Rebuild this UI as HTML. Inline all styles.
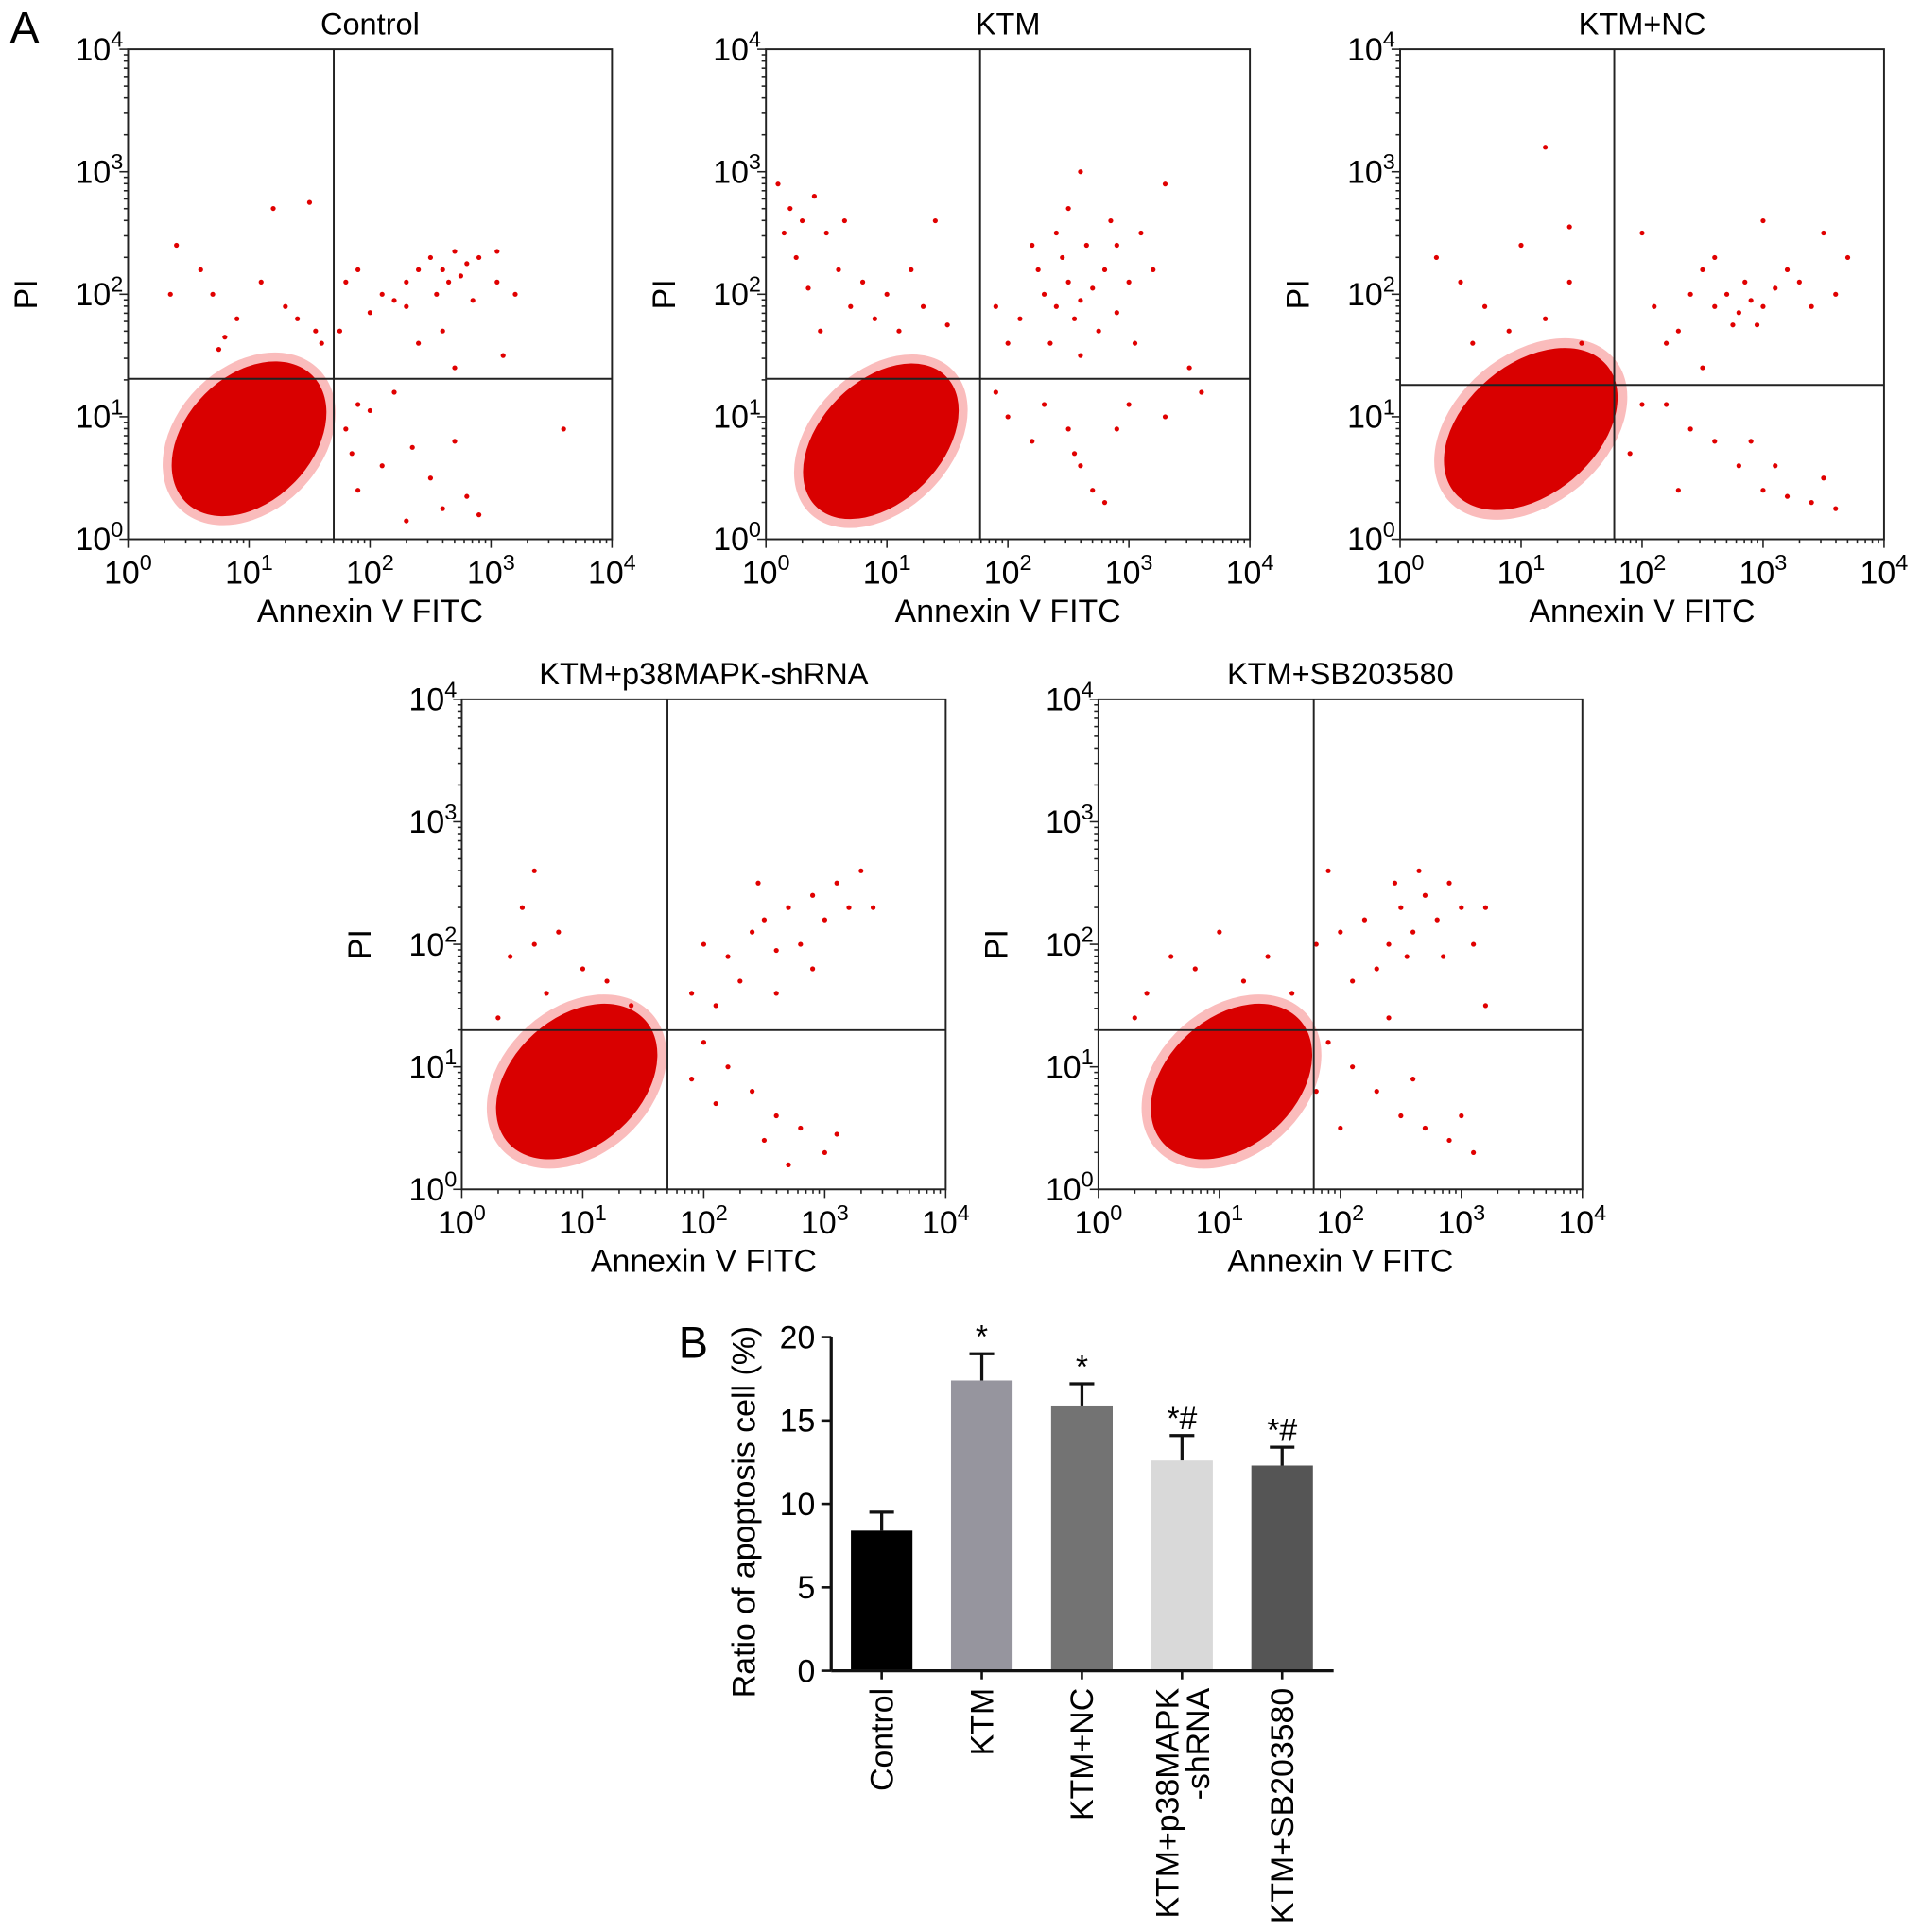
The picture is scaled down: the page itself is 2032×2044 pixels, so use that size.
<!DOCTYPE html>
<html><head><meta charset="utf-8">
<style>
html,body{margin:0;padding:0;background:#fff;}
svg{display:block;font-family:"Liberation Sans",Arial,sans-serif;}
</style></head>
<body>
<svg id="fig" width="2032" height="2044" viewBox="0 0 1560 1569.2" preserveAspectRatio="none" xmlns="http://www.w3.org/2000/svg">
<text x="8" y="35" font-size="36">A</text>
<text x="551" y="1103" font-size="36">B</text>
</svg>
<script>
// ---------- Flow cytometry data (log10 units) ----------
const panelTitles = ["Control","KTM","KTM+NC","KTM+p38MAPK-shRNA","KTM+SB203580"];
const gateX = [1.7, 1.77, 1.77, 1.7, 1.78];
const gateY = [1.31, 1.31, 1.26, 1.30, 1.30];
// cloud: [center logx, center logy, major radius, minor radius, angle deg]
const clouds = [
  [1.0,0.82,0.74,0.52,-45],
  [0.95,0.80,0.76,0.50,-45],
  [1.08,0.90,0.82,0.54,-40],
  [0.95,0.88,0.76,0.53,-42],
  [1.1,0.88,0.76,0.53,-42]
];
const points0 = [[2.5,2.3],[2.6,2.2],[2.7,2.35],[2.8,2.25],[2.65,2.1],[2.55,2.0],[2.9,2.3],[2.75,2.15],[2.4,2.2],[2.3,2.1],[2.2,1.95],[2.1,2.0],[2.0,1.85],[1.9,2.2],[2.85,1.95],[3.05,2.35],[3.05,2.1],[2.6,1.7],[3.2,2.0],[2.4,1.6],[2.3,1.9],[1.8,2.1],[1.75,1.7],[3.1,1.5],[2.7,1.4],[1.9,1.1],[2.2,1.2],[2.35,0.75],[2.5,0.5],[2.8,0.35],[3.6,0.9],[2.6,0.25],[2.3,0.15],[1.9,0.4],[2.1,0.6],[1.8,0.9],[2.0,1.05],[1.85,0.7],[2.9,0.2],[2.7,0.8],[0.4,2.4],[0.6,2.2],[1.2,2.7],[1.5,2.75],[0.35,2.0],[0.7,2.0],[1.1,2.1],[0.9,1.8],[1.4,1.8],[1.3,1.9],[1.6,1.6],[1.55,1.7],[0.8,1.65],[0.75,1.55]];
const points1 = [[0.1,2.9],[0.2,2.7],[0.3,2.6],[0.15,2.5],[0.4,2.8],[0.5,2.5],[0.25,2.3],[0.6,2.2],[0.8,2.1],[0.35,2.05],[0.7,1.9],[1.0,2.0],[1.2,2.2],[1.4,2.6],[0.9,1.8],[1.1,1.7],[1.3,1.9],[1.5,1.75],[0.45,1.7],[0.65,2.6],[2.3,2.0],[2.4,1.9],[2.5,2.1],[2.6,1.95],[2.7,2.05],[2.55,1.8],[2.45,2.3],[2.65,2.4],[2.8,2.2],[2.9,1.85],[3.0,2.1],[3.1,2.5],[2.2,2.4],[2.1,1.8],[2.0,1.6],[2.35,1.6],[2.75,1.7],[2.85,2.6],[3.2,2.2],[3.3,2.9],[2.5,2.7],[2.6,3.0],[2.4,2.5],[2.9,2.4],[3.05,1.6],[1.9,1.9],[2.25,2.2],[2.6,1.5],[3.5,1.4],[3.6,1.2],[2.3,1.1],[2.5,0.9],[2.6,0.6],[2.7,0.4],[2.8,0.3],[2.55,0.7],[2.2,0.8],[2.0,1.0],[3.0,1.1],[3.3,1.0],[2.9,0.9],[1.9,1.2]];
const points2 = [[0.3,2.3],[0.5,2.1],[0.7,1.9],[1.0,2.4],[1.2,1.8],[1.4,2.1],[0.6,1.6],[0.9,1.7],[1.5,1.6],[1.2,3.2],[1.4,2.55],[2.6,1.9],[2.7,2.0],[2.8,1.85],[2.9,1.95],[3.0,1.9],[2.85,2.1],[2.95,1.75],[3.1,2.05],[2.75,1.75],[2.5,2.2],[2.4,2.0],[2.3,1.7],[3.2,2.2],[3.3,2.1],[3.4,1.9],[3.6,2.0],[3.7,2.3],[2.2,1.6],[2.1,1.9],[2.0,2.5],[2.6,2.3],[3.0,2.6],[3.5,2.5],[2.5,1.4],[2.2,1.1],[2.4,0.9],[2.6,0.8],[2.8,0.6],[3.0,0.4],[3.2,0.35],[3.4,0.3],[3.5,0.5],[3.1,0.6],[2.9,0.8],[3.6,0.25],[2.0,1.1],[2.3,0.4],[1.9,0.7]];
const points3 = [[0.3,1.4],[0.5,2.3],[0.6,2.0],[0.8,2.1],[0.4,1.9],[1.0,1.8],[1.2,1.7],[0.7,1.6],[0.6,2.6],[1.4,1.5],[2.0,2.0],[2.2,1.9],[2.4,2.1],[2.5,2.2],[2.6,1.95],[2.7,2.3],[2.8,2.0],[2.9,2.4],[3.0,2.2],[3.1,2.5],[3.2,2.3],[3.3,2.6],[2.3,1.7],[2.6,1.6],[2.9,1.8],[2.1,1.5],[2.45,2.5],[3.4,2.3],[1.9,1.6],[2.0,1.2],[2.2,1.0],[2.4,0.8],[2.6,0.6],[2.8,0.5],[3.0,0.3],[3.1,0.45],[2.7,0.2],[2.5,0.4],[1.9,0.9],[2.1,0.7]];
const points4 = [[0.4,1.6],[0.6,1.9],[0.8,1.8],[1.0,2.1],[1.2,1.7],[1.4,1.9],[0.3,1.4],[1.6,1.6],[1.8,2.0],[1.9,2.6],[2.0,2.1],[2.2,2.2],[2.4,2.0],[2.5,2.3],[2.6,2.1],[2.7,2.4],[2.8,2.2],[2.9,2.5],[3.0,2.3],[2.65,2.6],[2.55,1.9],[2.3,1.8],[2.1,1.7],[2.85,1.9],[3.1,2.0],[3.2,2.3],[2.45,2.5],[1.9,1.2],[2.1,1.0],[2.3,0.8],[2.5,0.6],[2.7,0.5],[2.9,0.4],[3.0,0.6],[3.1,0.3],[2.6,0.9],[2.0,0.5],[1.8,0.8],[3.2,1.5],[2.4,1.4]];
const pointSets = [points0, points1, points2, points3, points4];
const panelOrigins = [[104,40],[622,40],[1137,40],[375,568],[892,568]];

// ---------- Bar chart data ----------
const barCategories = ["Control","KTM","KTM+NC","KTM+p38MAPK|-shRNA","KTM+SB203580"];
const barValues = [8.4, 17.4, 15.9, 12.6, 12.3];
const barErrors = [1.1, 1.6, 1.3, 1.5, 1.1];
const barSignif = ["", "*", "*", "*#", "*#"];
const barColors = ["#000000","#96959e","#737373","#d9d9d9","#555555"];
const yTicks = [0,5,10,15,20];

const NS = "http://www.w3.org/2000/svg";
const svg = document.getElementById("fig");
function mk(tag, attrs, parent){
  const e = document.createElementNS(NS, tag);
  for (const k in attrs) e.setAttribute(k, attrs[k]);
  (parent||svg).appendChild(e);
  return e;
}
const W = 393, H = 398;

function powLabel(parent, x, y, exp, anchor){
  const t = mk("text",{x:x,y:y,"font-size":26,"text-anchor":anchor},parent);
  
  
  t.textContent = "10";
  const s = document.createElementNS(NS,"tspan");
  s.setAttribute("dy","-11"); s.setAttribute("font-size","18");
  s.textContent = exp;
  t.appendChild(s);
  return t;
}

panelTitles.forEach((title, i) => {
  const [ox, oy] = panelOrigins[i];
  const sx = v => ox + v / 4 * W;
  const sy = v => oy + H - v / 4 * H;
  const g = mk("g", {});
  
  
  const c = clouds[i];
  const rxp = c[2] * W / 4, ryp = c[3] * W / 4;
  const halo = mk("ellipse",{cx:sx(c[0]),cy:sy(c[1]),rx:rxp*1.1,ry:ryp*1.15,fill:"#e22",opacity:0.3,transform:`rotate(${c[4]} ${sx(c[0])} ${sy(c[1])})`},g);
  
  
  const core = mk("ellipse",{cx:sx(c[0]),cy:sy(c[1]),rx:rxp,ry:ryp,fill:"#d90000",transform:`rotate(${c[4]} ${sx(c[0])} ${sy(c[1])})`},g);
  
  
  pointSets[i].forEach(p => {
    const d = mk("circle",{cx:sx(p[0]),cy:sy(p[1]),r:2,fill:"#e00000"},g);
    
    
  });
  const fr = mk("rect",{x:ox,y:oy,width:W,height:H,fill:"none",stroke:"#222","stroke-width":1.5},g);
  
  
  const gv = mk("line",{x1:sx(gateX[i]),x2:sx(gateX[i]),y1:oy,y2:oy+H,stroke:"#222","stroke-width":1.5},g);
  
  
  const gh = mk("line",{x1:ox,x2:ox+W,y1:sy(gateY[i]),y2:sy(gateY[i]),stroke:"#222","stroke-width":1.5},g);
  
  
  for (let d = 0; d < 4; d++) {
    for (let m = 1; m <= 9; m++) {
      const v = d + Math.log10(m);
      const len = m === 1 ? 7 : 3.5;
      mk("line",{x1:sx(v),x2:sx(v),y1:oy+H,y2:oy+H+len,stroke:"#222","stroke-width":1.2},g);
      mk("line",{x1:ox,x2:ox-len,y1:sy(v),y2:sy(v),stroke:"#222","stroke-width":1.2},g);
    }
  }
  mk("line",{x1:sx(4),x2:sx(4),y1:oy+H,y2:oy+H+7,stroke:"#222","stroke-width":1.2},g);
  mk("line",{x1:ox,x2:ox-7,y1:sy(4),y2:sy(4),stroke:"#222","stroke-width":1.2},g);
  for (let d = 0; d <= 4; d++) {
    powLabel(g, sx(d), oy + H + 36, String(d), "middle");
    powLabel(g, ox - 4, sy(d) + 9, String(d), "end");
  }
  const t = mk("text",{x:ox+W/2,y:oy-12,"font-size":25,"text-anchor":"middle"},g);
  
  
  t.textContent = title;
  const xl = mk("text",{x:ox+W/2,y:oy+H+67,"font-size":26,"text-anchor":"middle"},g);
  
  
  xl.textContent = "Annexin V FITC";
  const yl = mk("text",{x:0,y:0,"font-size":26,"text-anchor":"middle",transform:`translate(${ox-74},${oy+H/2}) rotate(-90)`},g);
  
  
  yl.textContent = "PI";
});

// ---------- Bar chart ----------
(function(){
  const x0 = 675, xEnd = 1083, yBase = 1357, yTop = 1086;
  const yS = v => yBase - v / 20 * (yBase - yTop);
  const xS = i => 716 + i * 81.3;
  const g = mk("g", {});
  
  
  barValues.forEach((v, i) => {
    const cx = xS(i);
    const eb = mk("g",{},g);
    
    
    mk("line",{x1:cx,x2:cx,y1:yS(v),y2:yS(v+barErrors[i]),stroke:"#111","stroke-width":2.5},eb);
    mk("line",{x1:cx-10,x2:cx+10,y1:yS(v+barErrors[i]),y2:yS(v+barErrors[i]),stroke:"#111","stroke-width":2.5},eb);
    const r = mk("rect",{x:cx-25,y:yS(v),width:50,height:yBase-yS(v),fill:barColors[i]},g);
    
    
    if (barSignif[i]) {
      const s = mk("text",{x:cx,y:yS(v+barErrors[i])-5,"font-size":26,"text-anchor":"middle"},g);
      
      
      s.textContent = barSignif[i];
    }
    mk("line",{x1:cx,x2:cx,y1:yBase,y2:yBase+7,stroke:"#111","stroke-width":2},g);
    const parts = barCategories[i].split("|");
    const lab = mk("text",{x:0,y:0,"font-size":26,"text-anchor":"end",transform:`translate(${cx+9},${yBase+14}) rotate(-90)`},g);
    
    
    parts.forEach((p, k) => {
      const ts = document.createElementNS(NS,"tspan");
      ts.setAttribute("x", 0);
      ts.setAttribute("dy", k === 0 ? (parts.length > 1 ? -12 : 0) : 25);
      ts.textContent = p;
      lab.appendChild(ts);
    });
  });
  mk("line",{x1:x0,x2:x0,y1:yTop,y2:yBase,stroke:"#111","stroke-width":2.5},g);
  mk("line",{x1:x0,x2:xEnd,y1:yBase,y2:yBase,stroke:"#111","stroke-width":2.5},g);
  yTicks.forEach(v => {
    mk("line",{x1:x0-8,x2:x0,y1:yS(v),y2:yS(v),stroke:"#111","stroke-width":2},g);
    const t = mk("text",{x:x0-13,y:yS(v)+9,"font-size":26,"text-anchor":"end"},g);
    
    
    t.textContent = v;
  });
  const yt = mk("text",{x:0,y:0,"font-size":26,"text-anchor":"middle",transform:`translate(613,1228) rotate(-90)`},g);
  
  
  yt.textContent = "Ratio of apoptosis cell (%)";
})();
</script>
</body></html>
